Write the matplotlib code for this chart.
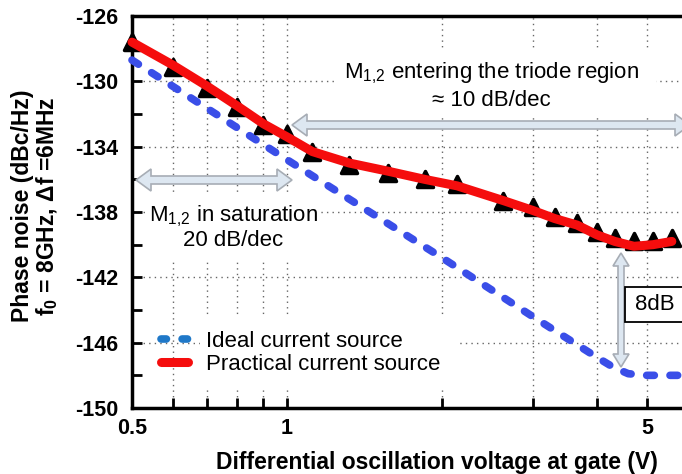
import numpy as np
import matplotlib
matplotlib.use('Agg')
import matplotlib.pyplot as plt
from matplotlib.patches import Polygon, Rectangle
from matplotlib.lines import Line2D
from matplotlib.markers import MarkerStyle

plt.rcParams['font.family'] = ['Liberation Sans', 'DejaVu Sans']
plt.rcParams['mathtext.fontset'] = 'custom'
plt.rcParams['mathtext.rm'] = 'Liberation Sans'
plt.rcParams['mathtext.it'] = 'Liberation Sans:italic'
plt.rcParams['mathtext.bf'] = 'Liberation Sans:bold'

# measured points (practical current source)
v_meas = [0.5, 0.6, 0.7, 0.8, 0.9, 1.0, 1.12, 1.32, 1.57, 1.85, 2.14, 2.63,
          3.0, 3.31, 3.66, 4.0, 4.33, 4.72, 5.14, 5.59]
pn_meas = [-127.6, -129.1, -130.4, -131.6, -132.7, -133.2, -134.3, -135.1, -135.6,
           -136.0, -136.3, -137.3, -137.7, -138.3, -138.7, -139.2, -139.6, -139.8,
           -139.8, -139.6]
# practical current source fit (red)
pn_practical = [-127.6, -129.0, -130.3, -131.5, -132.6, -133.4, -134.3, -135.0, -135.5,
                -136.0, -136.4, -137.3, -137.9, -138.4, -138.8, -139.4, -139.8, -140.1,
                -140.0, -139.8]
# ideal current source (blue dashed)
v_ideal = [0.5, 1.0, 2.0, 3.0, 4.0, 4.3, 4.6, 5.0, 5.5, 6.0]
pn_ideal = [-128.7, -134.8, -140.8, -144.4, -146.9, -147.5, -147.9, -148.0, -148.0, -148.0]

xticks = [0.5, 0.6, 0.7, 0.8, 0.9, 1, 2, 3, 4, 5]
xticklabels = ['0.5', '', '', '', '', '1', '', '', '', '5']
yticks_major = [-150, -146, -142, -138, -134, -130, -126]
yticks_minor = [-148, -144, -140, -136, -132, -128]

W, H = 682, 474
fig = plt.figure(figsize=(W / 100, H / 100), dpi=100)
ax = fig.add_axes([132 / W, 66 / H, 550 / W, 392 / H])
ax.set_xscale('log')
ax.set_xlim(0.5, 5.85)
ax.set_ylim(-150, -126)

def px(x, y):
    # figure pixel (top-left origin) -> figure fraction
    return (x / W, 1 - y / H)

ax.plot(v_ideal, pn_ideal, color='#3a4ee8', lw=5.5, ls=(0, (1.0, 2.05)),
        dash_capstyle='round', zorder=3, clip_on=False)
tri = MarkerStyle('^', joinstyle='round')
ax.plot(v_meas, pn_meas, ls='none', marker=tri, ms=12, color='black',
        mec='black', mew=2.5, zorder=4, clip_on=False)
ax.plot(v_meas, pn_practical, color='#f50d0d', lw=6.5, solid_capstyle='round',
        zorder=5, clip_on=False)

ax.set_xticks(xticks)
ax.set_xticklabels(xticklabels)
ax.xaxis.set_minor_locator(matplotlib.ticker.NullLocator())
ax.set_yticks(yticks_major)
ax.set_yticks(yticks_minor, minor=True)
ax.set_yticklabels([str(t) for t in yticks_major])
ax.tick_params(axis='both', which='both', direction='in', length=7, width=2,
               labelsize=15.5, color='black')
ax.tick_params(axis='y', pad=10)
ax.tick_params(axis='x', pad=7)
for lab in ax.get_xticklabels() + ax.get_yticklabels():
    lab.set_fontweight('bold')

ax.grid(True, which='major', color='#666666', lw=1, ls=(0, (1, 3)))
ax.set_axisbelow(True)
for s in ['left', 'bottom', 'top']:
    ax.spines[s].set_linewidth(2.5)
ax.spines['right'].set_visible(False)

# white boxes behind the annotation texts and the legend labels
for (x0, y0, x1, y1) in [(338, 50, 656, 116), (148, 196, 320, 262), (200, 318, 457, 390)]:
    ax.add_patch(Rectangle(px(x0, y1), (x1 - x0) / W, (y1 - y0) / H,
                           transform=fig.transFigure, facecolor='white',
                           edgecolor='none', zorder=1, clip_on=False))

def harrow(x0, x1, y, hl=15, hw=11, sw=4):
    pts = [(x0, y), (x0 + hl, y - hw), (x0 + hl, y - sw), (x1 - hl, y - sw),
           (x1 - hl, y - hw), (x1, y), (x1 - hl, y + hw), (x1 - hl, y + sw),
           (x0 + hl, y + sw), (x0 + hl, y + hw)]
    return [px(a, b) for a, b in pts]

def varrow(x, y0, y1, hl=13, hw=8, sw=3):
    pts = [(x, y0), (x + hw, y0 + hl), (x + sw, y0 + hl), (x + sw, y1 - hl),
           (x + hw, y1 - hl), (x, y1), (x - hw, y1 - hl), (x - sw, y1 - hl),
           (x - sw, y0 + hl), (x - hw, y0 + hl)]
    return [px(a, b) for a, b in pts]

arrow_style = dict(transform=fig.transFigure, facecolor='#dde7f1', edgecolor='#a7adb5',
                   lw=1.2, zorder=2, clip_on=False)
ax.add_patch(Polygon(harrow(292, 690, 125), **arrow_style))
ax.add_patch(Polygon(harrow(136, 292, 180), **arrow_style))
ax.add_patch(Polygon(varrow(621, 253, 367), **arrow_style))

fig.text(*px(492, 73), r'M$_{1{,}2}$ entering the triode region', fontsize=16,
         ha='center', va='center', zorder=6)
fig.text(*px(491, 101), '\u2248 10 dB/dec', fontsize=16, ha='center', va='center')
fig.text(*px(233, 216), r'M$_{1{,}2}$ in saturation', fontsize=16, ha='center', va='center')
fig.text(*px(233, 240), '20 dB/dec', fontsize=16, ha='center', va='center')

ax.add_patch(Rectangle(px(625, 322), 80 / W, 35 / H, transform=fig.transFigure,
                       facecolor='white', edgecolor='black', lw=1.3, zorder=6,
                       clip_on=False))
fig.text(*px(655, 304), '8dB', fontsize=16, ha='center', va='center', zorder=7)

handles = [Line2D([], [], color='#1f78c8', lw=5.5, ls=(0, (0.71, 2.05)),
                  dash_capstyle='round'),
           Line2D([], [], color='#f50d0d', lw=6.5, solid_capstyle='round')]
leg = ax.legend(handles, ['Ideal current source', 'Practical current source'],
                loc='upper left', bbox_to_anchor=px(154, 324), bbox_transform=fig.transFigure,
                fontsize=16, frameon=False, handlelength=1.25,
                handletextpad=0.8, labelspacing=0.1, borderpad=0.3, borderaxespad=0)

fig.text(*px(437, 462), 'Differential oscillation voltage at gate (V)', fontsize=16.5,
         fontweight='bold', ha='center', va='center')
fig.text(*px(23, 206), 'Phase noise (dBc/Hz)', fontsize=16.5, fontweight='bold',
         rotation=90, ha='center', va='center')
fig.text(*px(47, 206), r'f$_{\mathbf{0}}$ = 8GHz, ' + '\u0394f =6MHz',
         fontsize=16.5, fontweight='bold', rotation=90, ha='center', va='center')

fig.savefig('out.png', dpi=100)
